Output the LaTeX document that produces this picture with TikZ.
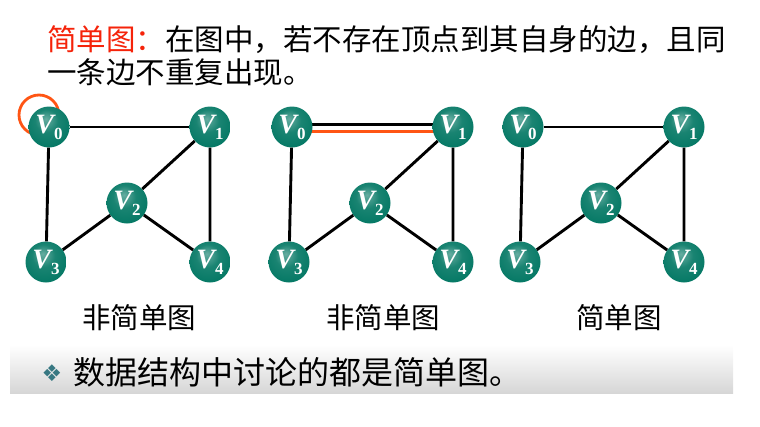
\documentclass[tikz,border=0pt]{standalone}
\usepackage{fontspec}
\setmainfont{Liberation Serif}
\newfontfamily\cjk{Noto Sans CJK SC}
\newfontfamily\dingfont{DejaVu Sans}
\usetikzlibrary{backgrounds}

\definecolor{vgreen}{RGB}{0,118,98}
\definecolor{loopred}{RGB}{255,85,20}
\definecolor{titlered}{RGB}{245,35,10}
\definecolor{bullteal}{RGB}{55,120,130}

\pgfdeclareradialshading{vball}{\pgfpoint{-4bp}{10bp}}{%
  color(0bp)=(vgreen!60!white);
  color(14bp)=(vgreen!90!white);
  color(34bp)=(vgreen);
  color(46bp)=(vgreen!75!black);
  color(60bp)=(vgreen!60!black)}

% vertex label V_i
\newcommand{\vlab}[1]{\textbf{\textit{V}}\kern-2pt\raisebox{-6pt}{\fontsize{17}{17}\selectfont\bfseries #1}}

\begin{document}
\begin{tikzpicture}[x=1pt,y=-1pt,
    vertex/.style={circle,minimum size=41pt,inner sep=0pt,shading=vball,
      text=white,font=\fontsize{28}{28}\selectfont},
    edge/.style={line width=2.9pt,black},
    gcaption/.style={font=\cjk\fontsize{28.5}{30}\selectfont},
    title/.style={anchor=west,inner sep=0pt,font=\cjk\fontsize{29.5}{32}\selectfont}
  ]
  \useasboundingbox (0,0) rectangle (760,426);

  % definition
  \node[title] (title1) at (47,40) {\textcolor{titlered}{简单图：}在图中，若不存在顶点到其自身的边，且同};
  \node[title] (title2) at (47,72) {一条边不重复出现。};

  % three graphs
  \foreach \g/\dx in {a/0,b/243,c/474}{
    \node[vertex] (\g0) at (49+\dx,127) {\vlab{0}};
    \node[vertex] (\g1) at (210+\dx,127) {\vlab{1}};
    \node[vertex] (\g2) at (127+\dx,203) {\vlab{2}};
    \node[vertex] (\g3) at (46+\dx,262) {\vlab{3}};
    \node[vertex] (\g4) at (210+\dx,262) {\vlab{4}};
    \draw[edge] (\g0) -- (\g3);
    \draw[edge] (\g1) -- (\g2) -- (\g3);
    \draw[edge] (\g2) -- (\g4) -- (\g1);
  }
  \draw[edge] (a0) -- (a1);
  \draw[edge] (c0) -- (c1);

  \begin{scope}[on background layer]
    % self loop
    \draw[loopred,line width=2.8pt] (39,115) circle[radius=20];
    % repeated edge
    \draw[edge] ([yshift=2.5pt]b0.center) -- ([yshift=2.5pt]b1.center);
    \draw[loopred,line width=2.8pt] ([yshift=-4.5pt]b0.center) -- ([yshift=-4.5pt]b1.center);
  \end{scope}

  \node[gcaption] (capA) at (139,318) {非简单图};
  \node[gcaption] (capB) at (383,318) {非简单图};
  \node[gcaption] (capC) at (619,318) {简单图};

  % note
  \shade[top color=white,bottom color=black!16] (10,345) rectangle (733,393);
  \node[text=bullteal,font=\dingfont\fontsize{23}{23}\selectfont] (bullet) at (52,373) {❖};
  \node[anchor=west,inner sep=0pt,font=\cjk\fontsize{32}{34}\selectfont] (note) at (73,372) {数据结构中讨论的都是简单图。};
\end{tikzpicture}
\end{document}
